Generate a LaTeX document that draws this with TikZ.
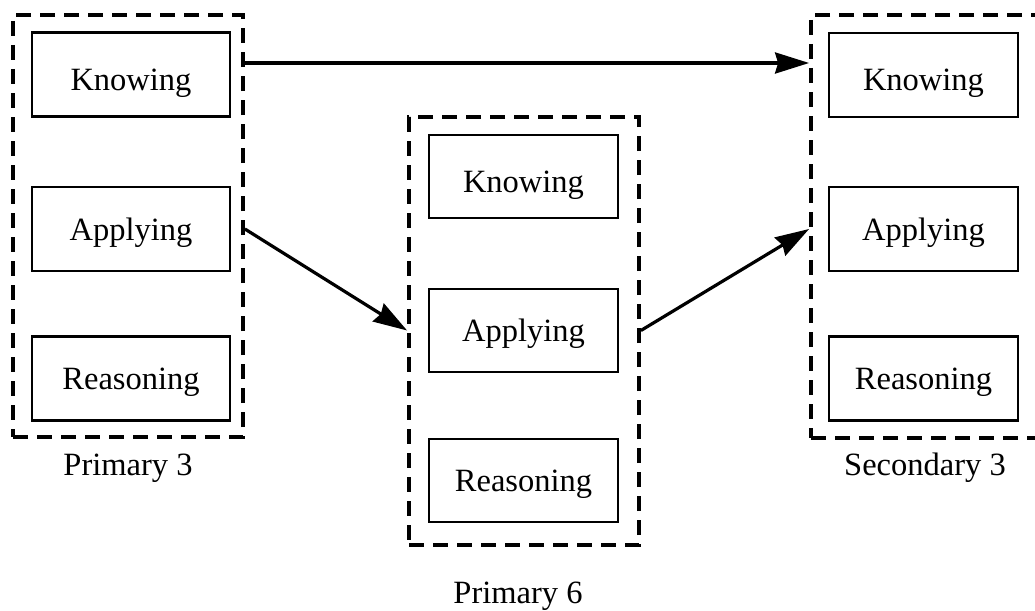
\documentclass[tikz,border=0pt]{standalone}
\usepackage{fontspec}
\setmainfont{Liberation Serif}
\usetikzlibrary{arrows.meta}
\begin{document}
\begin{tikzpicture}[x=1pt,y=-1pt,
  every node/.style={font=\fontsize{32.5}{38}\selectfont},
  group/.style={draw, line width=3.8pt, dash pattern=on 15pt off 9pt, minimum width=230pt, inner sep=0pt},
  item/.style={draw, line width=2.2pt, minimum height=84pt, inner sep=0pt, text height=22pt, text depth=0pt},
  know/.style={text height=31pt},
  arr/.style={line width=3.2pt, -{Stealth[length=34pt,width=21pt,inset=3pt]}},
  lbl/.style={inner sep=0pt}]
\clip (0,0) rectangle (1035,610);
% groups
\node[group, minimum height=422pt] (L) at (128,226) {};
\node[group, minimum height=428pt] (M) at (524,331) {};
\node[group, minimum height=423pt] (R) at (926,226.5) {};
% left items
\node[item, know, minimum width=198pt] (LK) at (131,74.5) {Knowing};
\node[item, minimum width=198pt] (LA) at (131,229) {Applying};
\node[item, minimum width=198pt] (LR) at (131,378.5) {Reasoning};
% middle items
\node[item, know, minimum width=189pt, minimum height=83pt] (MK) at (523.5,176.5) {Knowing};
\node[item, minimum width=189pt, minimum height=83pt] (MA) at (523.5,330.5) {Applying};
\node[item, minimum width=189pt, minimum height=83pt] (MR) at (523.5,480.5) {Reasoning};
% right items
\node[item, know, minimum width=189pt] (RK) at (923.5,75) {Knowing};
\node[item, minimum width=189pt] (RA) at (923.5,229) {Applying};
\node[item, minimum width=189pt] (RR) at (923.5,378.5) {Reasoning};
% labels
\node[lbl] (P3) at (128,468) {Primary 3};
\node[lbl] (P6) at (518,596) {Primary 6};
\node[lbl] (S3) at (925,468) {Secondary 3};
% arrows
\coordinate (a1) at ([yshift=11.5pt]L.east |- LK.center);
\draw[arr] (a1) -- (a1 -| R.west);
\draw[arr] (L.east |- LA.center) -- (M.west |- MA.center);
\draw[arr] (M.east |- MA.center) -- (R.west |- RA.center);
\end{tikzpicture}
\end{document}
